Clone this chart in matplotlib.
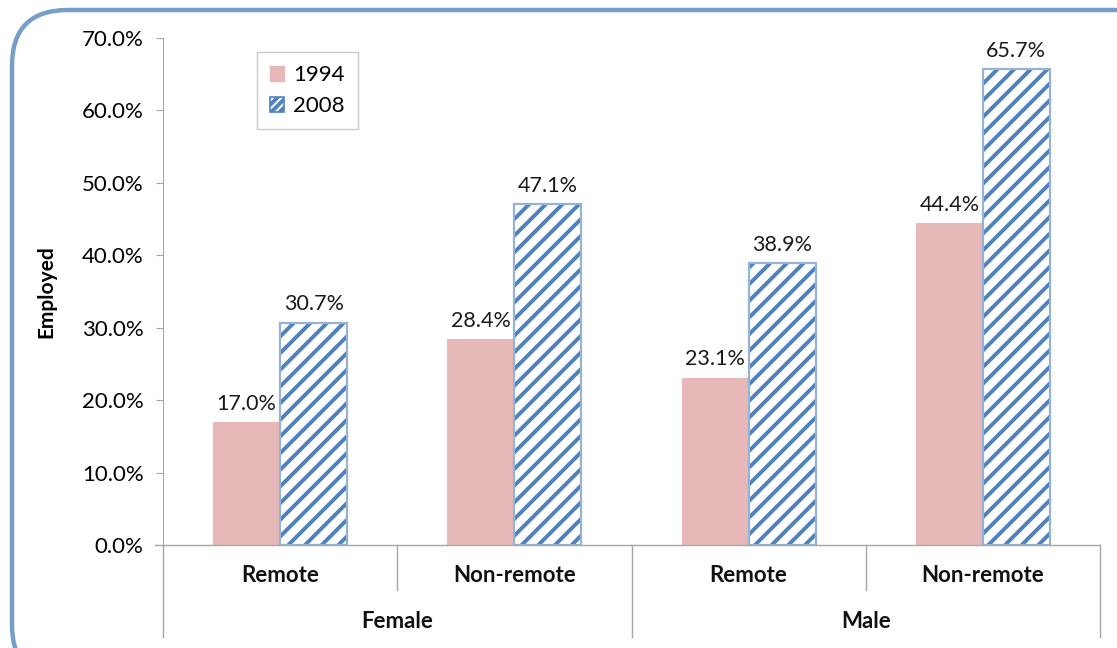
import matplotlib.pyplot as plt
import matplotlib.transforms as mtransforms
from matplotlib.patches import FancyBboxPatch, Patch
import numpy as np

# data
groups = ['Female', 'Male']
areas = ['Remote', 'Non-remote', 'Remote', 'Non-remote']
y1994 = [17.0, 28.4, 23.1, 44.4]
y2008 = [30.7, 47.1, 38.9, 65.7]

pink = '#E6B9B8'
blue = '#4F81BD'
edge = '#95B3D7'
grey = '#A6A6A6'

plt.rcParams['font.family'] = ['Lato', 'DejaVu Sans']
plt.rcParams['hatch.linewidth'] = 2.8

fig = plt.figure(figsize=(11.17, 6.48), dpi=100)
ax = fig.add_axes([163 / 1117, 1 - 545 / 648, (1100 - 163) / 1117, (545 - 38) / 648])

# rounded frame around everything
frame = FancyBboxPatch((12 / 1117, -0.05), 1.05, 1 - 10 / 648 + 0.05,
                       boxstyle='round,pad=0,rounding_size=0.05',
                       transform=fig.transFigure, fill=False,
                       edgecolor='#779DCB', linewidth=3.2, clip_on=False,
                       mutation_aspect=1117 / 648)
fig.patches.append(frame)

x = np.arange(len(areas))
w = 0.286
b1 = ax.bar(x - w / 2, y1994, w, color=pink, edgecolor=pink, linewidth=0.8)
# hatched fill in blue, then a light-blue outline on top
ax.bar(x + w / 2, y2008, w, color='white', edgecolor=blue, linewidth=0, hatch='//')
b2 = ax.bar(x + w / 2, y2008, w, fill=False, edgecolor=edge, linewidth=1.6)

for bars, vals in ((b1, y1994), (b2, y2008)):
    for r, v in zip(bars, vals):
        ax.annotate(f'{v:.1f}%', (r.get_x() + r.get_width() / 2, v),
                    xytext=(0, 6), textcoords='offset points',
                    ha='center', va='bottom', fontsize=15.5, color='#1a1a1a')

ax.set_xlim(-0.5, 3.5)
ax.set_ylim(0, 70)
ax.set_yticks(np.arange(0, 71, 10))
ax.set_yticklabels([f'{t:.1f}%' for t in np.arange(0, 71, 10)], fontsize=16)
ax.tick_params(axis='y', length=5, color=grey, pad=9)
ax.set_xticks([])
for s in ['top', 'right', 'bottom']:
    ax.spines[s].set_visible(False)
ax.spines['left'].set_color(grey)
ax.set_ylabel('Employed', fontsize=15, fontweight='bold', labelpad=18)

# category axis drawn by hand
tr = mtransforms.blended_transform_factory(ax.transData, ax.transAxes)
px = 1 / (545 - 38)
ax.plot([-0.5 - 8 / 234.5, 3.5], [0, 0], transform=tr, color=grey, lw=1, clip_on=False)
for xb in [0.5, 2.5]:
    ax.plot([xb, xb], [0, -45 * px], transform=tr, color=grey, lw=1, clip_on=False)
for xb in [-0.5, 1.5, 3.5]:
    ax.plot([xb, xb], [0, -92 * px], transform=tr, color=grey, lw=1, clip_on=False)
for xi, lab in zip(x, areas):
    ax.text(xi, -31 * px, lab, transform=tr, ha='center', va='center',
            fontsize=16, fontweight='bold', color='#111111')
for gi, g in enumerate(groups):
    ax.text(2 * gi + 0.5, -77 * px, g, transform=tr, ha='center', va='center',
            fontsize=16, fontweight='bold', color='#111111')

handles = [Patch(facecolor=pink, edgecolor=pink, label='1994'),
           Patch(facecolor='white', edgecolor=blue, hatch='////', lw=1.2, label='2008')]
leg = ax.legend(handles=handles, loc='upper left', bbox_to_anchor=(0.1, 0.973),
                fontsize=16, frameon=True, fancybox=False, handlelength=0.65,
                handleheight=0.65, handletextpad=0.4, labelspacing=0.5,
                borderpad=0.6, borderaxespad=0)
leg.get_frame().set_edgecolor('#BFBFBF')
leg.get_frame().set_linewidth(1)

fig.savefig('out.png', dpi=100)
